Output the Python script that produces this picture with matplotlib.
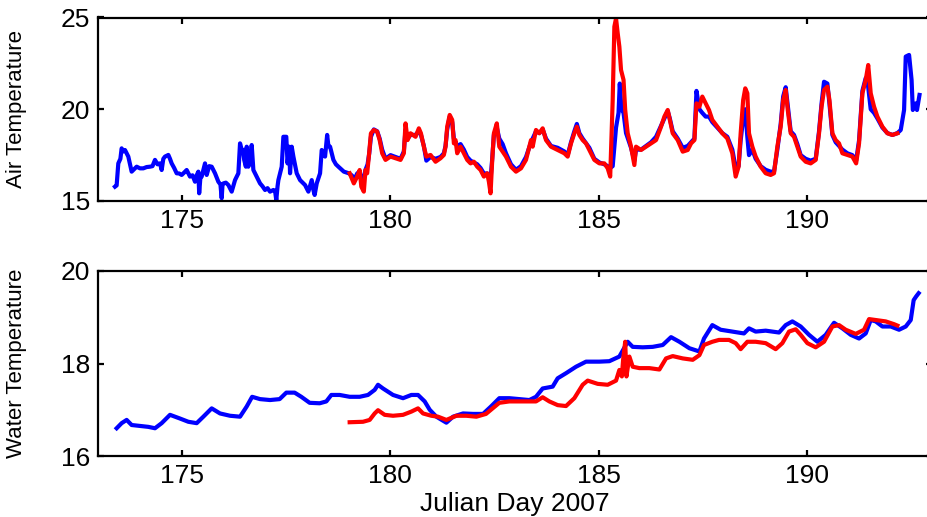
import matplotlib
matplotlib.use("Agg")
import matplotlib.pyplot as plt

plt.rcParams['font.family'] = ['Liberation Sans', 'DejaVu Sans']

# ---------------- data ----------------
blue_air_day = [173.40, 173.44, 173.48, 173.53, 173.56, 173.60, 173.64, 173.68, 173.72, 173.80,
                173.92, 174.00, 174.08, 174.16, 174.24, 174.30, 174.36, 174.42, 174.48, 174.52,
                174.56, 174.60, 174.68, 174.72, 174.76, 174.82, 174.88, 174.94, 175.00, 175.06,
                175.12, 175.20, 175.26, 175.32, 175.36, 175.40, 175.42, 175.45, 175.48, 175.52,
                175.56, 175.60, 175.66, 175.72, 175.80, 175.88, 175.93, 175.96, 175.98, 176.00,
                176.06, 176.12, 176.20, 176.28, 176.36, 176.40, 176.44, 176.47, 176.50, 176.54,
                176.56, 176.60, 176.64, 176.68, 176.72, 176.80, 176.88, 176.94, 177.00, 177.06,
                177.12, 177.20, 177.24, 177.27, 177.30, 177.32, 177.40, 177.44, 177.51, 177.54,
                177.58, 177.60, 177.64, 177.68, 177.76, 177.84, 177.96, 178.04, 178.12, 178.16,
                178.19, 178.24, 178.32, 178.36, 178.44, 178.49, 178.52, 178.56, 178.64, 178.70,
                178.76, 178.89, 179.01,
                179.08, 179.15, 179.21, 179.27, 179.31, 179.37, 179.41, 179.46, 179.50, 179.54,
                179.61, 179.69, 179.75, 179.81, 179.89, 180.01, 180.13, 180.25, 180.33, 180.37,
                180.42, 180.49, 180.61, 180.69, 180.74, 180.81, 180.87, 180.97, 181.09, 181.21,
                181.29, 181.33, 181.37, 181.43, 181.49, 181.53, 181.61, 181.69, 181.77, 181.85,
                181.93, 182.01, 182.09, 182.17, 182.25, 182.33, 182.37, 182.41, 182.45, 182.49,
                182.56, 182.62, 182.70, 182.78, 182.90, 183.02, 183.14, 183.26, 183.38, 183.50,
                183.58, 183.66, 183.74, 183.86, 184.02, 184.18, 184.26, 184.34, 184.42, 184.48,
                184.54, 184.62, 184.78, 184.90, 185.02, 185.14, 185.22, 185.28, 185.34, 185.42,
                185.48, 185.51, 185.55, 185.60, 185.66, 185.78, 185.86, 185.90, 186.02, 186.14,
                186.26, 186.38, 186.50, 186.58, 186.66, 186.71, 186.78, 186.90, 187.02, 187.14,
                187.22, 187.30, 187.35, 187.42, 187.49, 187.57, 187.65, 187.73, 187.85, 187.97,
                188.09, 188.21, 188.29, 188.36, 188.41, 188.47, 188.52, 188.57, 188.61, 188.69,
                188.77, 188.89, 189.01, 189.13, 189.21, 189.29, 189.37, 189.43, 189.49, 189.54,
                189.61, 189.69, 189.77, 189.85, 189.97, 190.09, 190.21, 190.29, 190.35, 190.41,
                190.49, 190.54, 190.61, 190.69, 190.77, 190.85, 190.97, 191.09, 191.18, 191.25,
                191.33, 191.41, 191.47, 191.53, 191.61, 191.69, 191.81, 191.93, 192.05, 192.17,
                192.25, 192.33, 192.37, 192.45, 192.51, 192.54, 192.61, 192.64, 192.70]
blue_air = [15.78, 15.85, 17.05, 17.30, 17.87, 17.70, 17.78, 17.60, 17.42, 16.60,
            16.87, 16.78, 16.78, 16.85, 16.87, 16.90, 17.24, 17.00, 17.05, 16.69,
            17.30, 17.42, 17.51, 17.30, 17.05, 16.80, 16.51, 16.50, 16.42, 16.55,
            16.69, 16.33, 16.40, 16.05, 16.40, 16.60, 15.42, 16.30, 16.33, 16.70,
            17.05, 16.42, 16.90, 16.87, 16.51, 16.05, 15.90, 15.15, 15.90, 15.96,
            16.00, 15.87, 15.51, 16.14, 16.51, 18.14, 17.80, 17.78, 17.24, 16.87,
            17.96, 16.87, 17.20, 18.05, 16.69, 16.33, 15.96, 15.80, 15.60, 15.70,
            15.51, 15.60, 15.55, 15.05, 15.80, 16.14, 16.87, 18.50, 18.50, 17.05,
            17.96, 16.51, 17.96, 17.42, 16.51, 16.14, 15.87, 15.51, 16.14, 15.60,
            15.33, 15.96, 16.51, 17.78, 17.42, 18.60, 18.00, 17.96, 17.24, 17.00,
            16.87, 16.60, 16.51,
            16.40, 16.20, 16.50, 16.60, 16.10, 16.30, 16.70, 17.00, 17.60, 18.50,
            18.90, 18.80, 18.40, 17.80, 17.30, 17.50, 17.40, 17.30, 17.70, 18.90,
            18.40, 18.60, 18.60, 18.80, 18.60, 18.00, 17.20, 17.40, 17.30, 17.40,
            17.60, 18.00, 18.90, 19.60, 19.30, 18.40, 18.00, 18.10, 17.80, 17.40,
            17.20, 17.10, 17.00, 16.80, 16.50, 16.50, 16.30, 16.20, 17.30, 18.60,
            19.00, 18.40, 18.10, 17.60, 17.00, 16.70, 16.90, 17.40, 18.20, 18.80,
            18.70, 18.90, 18.40, 18.00, 17.90, 17.70, 17.50, 18.20, 18.80, 19.20,
            18.70, 18.40, 17.90, 17.30, 17.10, 17.00, 16.90, 16.80, 16.90, 19.00,
            19.80, 21.40, 20.00, 19.80, 18.70, 17.90, 17.20, 17.80, 17.80, 18.00,
            18.20, 18.50, 19.10, 19.50, 19.90, 19.50, 18.80, 18.40, 17.90, 18.00,
            18.20, 18.40, 21.00, 20.00, 19.80, 19.60, 19.60, 19.30, 19.00, 18.70,
            18.50, 17.80, 16.80, 16.90, 18.30, 19.50, 20.00, 18.50, 17.50, 17.80,
            17.30, 16.90, 16.70, 16.60, 16.60, 17.80, 19.20, 20.70, 21.20, 20.20,
            18.80, 18.60, 18.10, 17.50, 17.30, 17.20, 17.30, 18.80, 20.30, 21.50,
            21.40, 20.30, 18.60, 18.20, 18.00, 17.80, 17.60, 17.50, 17.20, 18.30,
            21.00, 21.70, 21.20, 20.00, 19.80, 19.50, 19.00, 18.70, 18.60, 18.70,
            18.87, 19.96, 22.87, 22.96, 21.60, 19.96, 20.32, 19.96, 20.78]

red_air_day = [179.03, 179.13, 179.21, 179.27, 179.31, 179.37, 179.41, 179.45, 179.49, 179.54,
               179.61, 179.69, 179.75, 179.81, 179.89, 180.01, 180.13, 180.25, 180.33, 180.37,
               180.42, 180.49, 180.61, 180.69, 180.74, 180.81, 180.87, 180.97, 181.09, 181.21,
               181.29, 181.33, 181.37, 181.43, 181.49, 181.53, 181.57, 181.61, 181.69, 181.77,
               181.85, 181.93, 182.01, 182.09, 182.17, 182.25, 182.33, 182.37, 182.41, 182.45,
               182.49, 182.56, 182.62, 182.78, 182.90, 183.02, 183.14, 183.26, 183.38, 183.42,
               183.50, 183.58, 183.66, 183.74, 183.86, 184.02, 184.18, 184.26, 184.34, 184.42,
               184.48, 184.54, 184.62, 184.70, 184.78, 184.90, 185.02, 185.14, 185.22, 185.28,
               185.34, 185.38, 185.42, 185.46, 185.50, 185.54, 185.60, 185.64, 185.70, 185.78,
               185.86, 185.90, 186.02, 186.14, 186.26, 186.38, 186.50, 186.58, 186.66, 186.71,
               186.78, 186.90, 187.02, 187.14, 187.22, 187.30, 187.35, 187.42, 187.49, 187.57,
               187.65, 187.73, 187.85, 187.97, 188.09, 188.21, 188.29, 188.36, 188.41, 188.47,
               188.52, 188.57, 188.61, 188.69, 188.77, 188.89, 189.01, 189.13, 189.21, 189.29,
               189.37, 189.43, 189.49, 189.54, 189.61, 189.69, 189.77, 189.85, 189.97, 190.09,
               190.21, 190.29, 190.35, 190.41, 190.49, 190.54, 190.61, 190.69, 190.77, 190.85,
               190.97, 191.09, 191.18, 191.25, 191.33, 191.41, 191.47, 191.53, 191.61, 191.69,
               191.81, 191.93, 192.05, 192.17]
red_air = [16.51, 15.96, 16.33, 16.69, 15.78, 15.51, 16.69, 16.51, 17.42, 18.69,
           18.87, 18.78, 18.32, 17.60, 17.24, 17.42, 17.33, 17.24, 17.60, 19.23,
           18.32, 18.69, 18.50, 18.96, 18.69, 17.96, 17.42, 17.51, 17.14, 17.33,
           17.51, 17.96, 19.05, 19.69, 19.42, 18.14, 18.32, 17.60, 17.96, 17.60,
           17.24, 17.05, 17.14, 16.87, 16.69, 16.33, 16.51, 16.05, 15.42, 17.24,
           18.69, 19.23, 17.96, 17.42, 16.87, 16.60, 16.78, 17.24, 18.32, 17.96,
           18.87, 18.69, 18.96, 18.32, 17.96, 17.78, 17.60, 17.42, 18.14, 18.69,
           19.05, 18.60, 18.32, 18.14, 17.78, 17.24, 17.05, 17.05, 16.78, 16.33,
           20.50, 24.50, 24.95, 24.14, 23.41, 22.14, 21.60, 19.96, 18.69, 17.96,
           16.96, 17.96, 17.78, 17.96, 18.14, 18.32, 19.05, 19.60, 19.96, 19.42,
           18.69, 18.32, 17.69, 17.78, 18.14, 18.32, 20.32, 20.14, 20.69, 20.32,
           19.96, 19.42, 19.05, 18.69, 18.41, 17.60, 16.33, 16.87, 18.69, 20.50,
           21.14, 20.87, 18.69, 17.96, 17.42, 16.87, 16.51, 16.42, 16.51, 17.96,
           19.05, 20.50, 21.05, 19.96, 18.69, 18.50, 17.96, 17.42, 17.14, 17.05,
           17.24, 18.69, 20.14, 21.05, 21.23, 20.50, 18.69, 18.32, 18.14, 17.60,
           17.51, 17.42, 17.05, 18.14, 20.87, 21.60, 22.41, 20.87, 20.14, 19.60,
           19.05, 18.69, 18.60, 18.69]

blue_water_day = [173.44, 173.56, 173.68, 173.80, 174.00, 174.20, 174.36, 174.52, 174.72, 174.96,
                  175.16, 175.36, 175.52, 175.72, 175.92, 176.16, 176.40, 176.56, 176.69, 176.88,
                  177.12, 177.35, 177.51, 177.71, 177.87, 178.07, 178.31, 178.47, 178.59, 178.79,
                  179.03, 179.27, 179.47, 179.63, 179.71, 179.83, 180.07, 180.31, 180.51, 180.67,
                  180.83, 180.95, 181.11, 181.35, 181.51, 181.75, 181.99, 182.23, 182.42, 182.62,
                  182.86, 183.10, 183.34, 183.50, 183.66, 183.90, 184.02, 184.22, 184.46, 184.70,
                  185.02, 185.26, 185.50, 185.70, 185.82, 186.06, 186.30, 186.54, 186.74, 186.94,
                  187.18, 187.42, 187.53, 187.73, 187.93, 188.21, 188.49, 188.61, 188.77, 189.01,
                  189.33, 189.49, 189.65, 189.85, 190.05, 190.25, 190.45, 190.65, 190.85, 191.05,
                  191.25, 191.41, 191.53, 191.65, 191.81, 192.01, 192.21, 192.37, 192.49, 192.56,
                  192.62, 192.68]
blue_water = [16.60, 16.71, 16.78, 16.67, 16.65, 16.63, 16.60, 16.71, 16.89, 16.81,
              16.74, 16.71, 16.85, 17.03, 16.92, 16.87, 16.85, 17.07, 17.28, 17.23,
              17.21, 17.23, 17.37, 17.37, 17.28, 17.15, 17.14, 17.18, 17.32, 17.32,
              17.28, 17.28, 17.32, 17.43, 17.54, 17.46, 17.32, 17.25, 17.32, 17.32,
              17.18, 17.00, 16.85, 16.72, 16.85, 16.92, 16.91, 16.91, 17.07, 17.25,
              17.25, 17.23, 17.21, 17.28, 17.46, 17.50, 17.68, 17.79, 17.93, 18.04,
              18.04, 18.05, 18.15, 18.47, 18.36, 18.35, 18.36, 18.40, 18.57, 18.47,
              18.33, 18.26, 18.54, 18.83, 18.73, 18.69, 18.65, 18.76, 18.69, 18.71,
              18.67, 18.83, 18.91, 18.80, 18.62, 18.47, 18.62, 18.88, 18.76, 18.62,
              18.54, 18.65, 18.94, 18.91, 18.80, 18.80, 18.73, 18.80, 18.94, 19.37,
              19.45, 19.52]

red_water_day = [179.03, 179.35, 179.51, 179.63, 179.71, 179.87, 180.07, 180.31, 180.51, 180.67,
                 180.79, 180.99, 181.15, 181.35, 181.59, 181.83, 182.07, 182.30, 182.46, 182.62,
                 182.86, 183.10, 183.34, 183.50, 183.66, 183.82, 184.02, 184.22, 184.42, 184.62,
                 184.74, 184.98, 185.22, 185.42, 185.50, 185.56, 185.59, 185.64, 185.67, 185.74,
                 185.82, 185.98, 186.22, 186.46, 186.62, 186.78, 187.02, 187.26, 187.42, 187.53,
                 187.73, 187.89, 188.13, 188.29, 188.41, 188.57, 188.77, 189.01, 189.25, 189.41,
                 189.57, 189.73, 189.85, 190.01, 190.21, 190.41, 190.61, 190.77, 190.93, 191.17,
                 191.37, 191.49, 191.65, 191.89, 192.09, 192.17]
red_water = [16.73, 16.74, 16.78, 16.92, 16.99, 16.89, 16.87, 16.89, 16.96, 17.03,
             16.92, 16.87, 16.85, 16.78, 16.87, 16.87, 16.85, 16.91, 17.03, 17.15,
             17.18, 17.18, 17.18, 17.18, 17.27, 17.18, 17.10, 17.08, 17.25, 17.54,
             17.63, 17.56, 17.54, 17.63, 17.86, 17.72, 18.08, 18.47, 17.72, 18.15,
             17.93, 17.90, 17.90, 17.87, 18.11, 18.16, 18.11, 18.08, 18.18, 18.40,
             18.47, 18.51, 18.51, 18.44, 18.31, 18.47, 18.47, 18.44, 18.31, 18.44,
             18.69, 18.74, 18.62, 18.44, 18.35, 18.47, 18.80, 18.83, 18.73, 18.64,
             18.73, 18.96, 18.94, 18.91, 18.85, 18.82]

x_ticks = [175, 180, 185, 190]
air_ticks = [15, 20, 25]
water_ticks = [16, 18, 20]

# ---------------- figure ----------------
W, H = 928, 517
fig = plt.figure(figsize=(W / 100, H / 100), dpi=100)

left = 98.3 / W
width = (932 - 98.3) / W
ax1 = fig.add_axes([left, 1 - 201 / H, width, 183.5 / H])
ax2 = fig.add_axes([left, 1 - 456 / H, width, 185 / H])

blue = (0, 0, 1)
red = (1, 0, 0)
lw = 3.0

ax1.plot(blue_air_day, blue_air, color=blue, lw=lw)
ax1.plot(red_air_day, red_air, color=red, lw=lw)
ax2.plot(blue_water_day, blue_water, color=blue, lw=lw)
ax2.plot(red_water_day, red_water, color=red, lw=lw)

ax1.set_ylim(15, 25)
ax1.set_yticks(air_ticks)
ax2.set_ylim(16, 20)
ax2.set_yticks(water_ticks)

for ax in (ax1, ax2):
    ax.set_xlim(173, 193)
    ax.set_xticks(x_ticks)
    ax.tick_params(direction='in', length=4, width=1.6, top=True, right=True,
                   labelsize=19, pad=6)
    ax.tick_params(axis='y', pad=6)
    for s in ax.spines.values():
        s.set_linewidth(1.6)

ax1.set_ylabel('Air Temperature', fontsize=16)
ax2.set_ylabel('Water Temperature', fontsize=16)
ax1.yaxis.set_label_coords(-0.085, 0.5)
ax2.yaxis.set_label_coords(-0.085, 0.5)
ax2.set_xlabel('Julian Day 2007', fontsize=19, labelpad=3)

fig.savefig('out.png', dpi=100)
